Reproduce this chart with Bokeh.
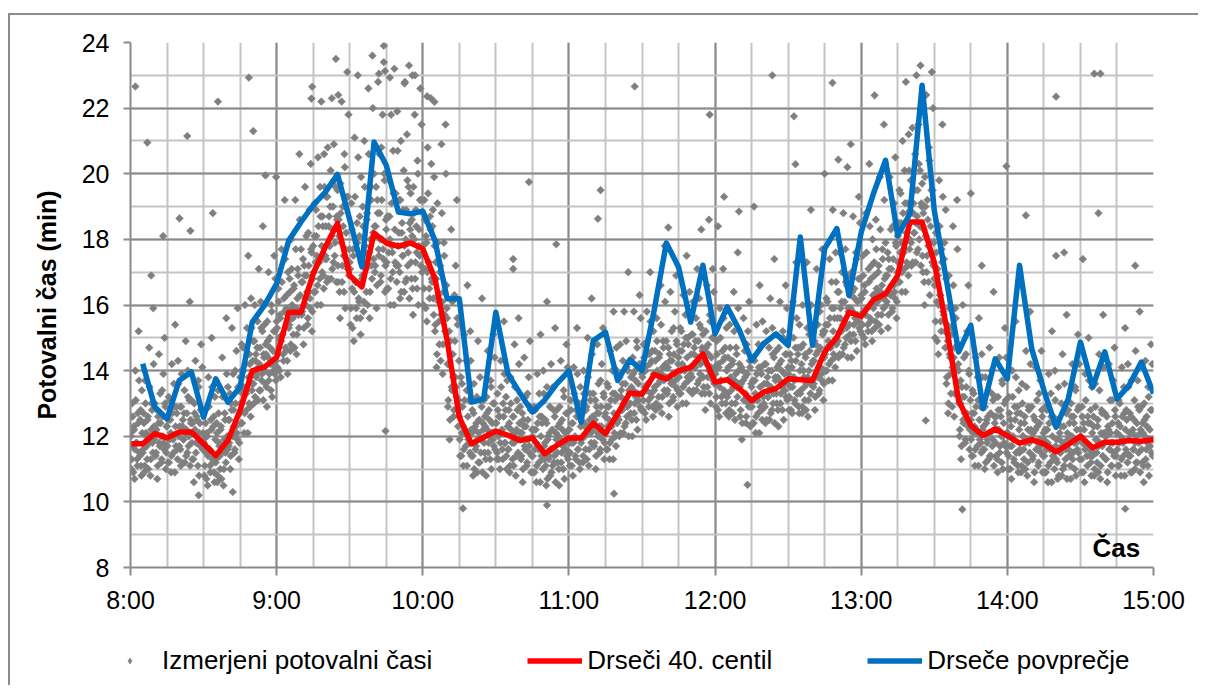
import numpy as np
from bokeh.plotting import figure
from bokeh.models import Range1d, FixedTicker, Legend, LegendItem, Label, ColumnDataSource, Div
from bokeh.embed import file_html
from bokeh.resources import INLINE

# ---------------- data ----------------
HOUR_TICKS = [0, 60, 120, 180, 240, 300, 360, 420]          # minutes after 8:00
HOUR_LABELS = ["8:00", "9:00", "10:00", "11:00", "12:00", "13:00", "14:00", "15:00"]
STEP = 5  # minutes between smoothed values

# moving 40th percentile, 8:00 .. 15:00 every 5 min
red = [11.77, 11.77, 12.08, 11.95, 12.13, 12.13, 11.77, 11.41, 11.87, 12.79,
       14.00, 14.11, 14.41, 15.78, 15.78, 16.95, 17.77, 18.49, 16.90, 16.55,
       18.19, 17.89, 17.79, 17.89, 17.71, 16.80, 14.92, 12.58, 11.77, 11.97,
       12.16, 12.03, 11.87, 11.95, 11.47, 11.72, 11.95, 11.95, 12.40, 12.08,
       12.69, 13.32, 13.28, 13.88, 13.75, 14.00, 14.10, 14.51, 13.65, 13.72,
       13.45, 13.09, 13.35, 13.45, 13.75, 13.72, 13.70, 14.57, 15.02, 15.78,
       15.65, 16.16, 16.34, 16.90, 18.53, 18.53, 17.30, 15.33, 13.09, 12.33,
       12.02, 12.22, 12.02, 11.79, 11.90, 11.77, 11.52, 11.75, 12.00, 11.65,
       11.82, 11.82, 11.87, 11.85, 11.90]

# moving average, 8:05 .. 15:00 every 5 min
blue = [14.21, 12.89, 12.53, 13.70, 13.96, 12.58, 13.75, 13.04, 13.50, 15.48,
        15.99, 16.65, 17.97, 18.53, 19.04, 19.44, 19.98, 18.60, 17.16, 20.97,
        20.26, 18.83, 18.78, 18.86, 17.97, 16.19, 16.19, 13.04, 13.14, 15.78,
        13.90, 13.30, 12.74, 13.10, 13.60, 13.99, 12.43, 14.92, 15.17, 13.70,
        14.33, 14.00, 15.84, 17.89, 17.16, 15.48, 17.21, 15.12, 15.94, 15.23,
        14.31, 14.82, 15.12, 14.77, 18.07, 14.77, 17.72, 18.33, 16.29, 18.22,
        19.39, 20.41, 18.12, 18.78, 22.70, 18.88, 16.75, 14.57, 15.38, 12.84,
        14.36, 13.75, 17.21, 14.67, 13.40, 12.28, 13.14, 14.87, 13.50, 14.57,
        13.14, 13.55, 14.26, 13.30]

# measured travel times: one row per 5-minute block, samples every 20 s
band = [
    "12.1 11.0 13.0 11.7 12.3 10.7 14.0 11.8 11.3 12.7 15.2 11.5 12.5 11.1 13.4",
    "11.5 12.7 10.9 13.7 12.1 11.7 12.5 11.0 14.7 12.0 11.3 13.0 11.8 15.9 12.3",
    "13.0 11.4 12.2 10.7 12.6 14.5 11.7 12.4 11.2 13.4 12.0 11.8 15.0 12.9 11.5",
    "12.3 11.2 13.2 11.9 12.5 10.9 14.2 12.0 11.5 12.9 15.4 11.7 12.7 11.3 13.6",
    "11.7 12.9 11.1 13.9 12.3 11.9 12.7 11.2 14.9 12.2 11.5 13.2 12.0 16.1 12.5",
    "13.1 11.3 12.1 10.6 12.7 14.3 11.8 12.5 11.1 13.5 12.1 11.7 14.8 12.8 11.6",
    "11.9 10.8 12.8 11.5 12.1 10.5 13.8 11.6 11.1 12.5 15.0 11.3 12.3 10.9 13.2",
    "11.2 12.4 10.6 13.4 11.8 11.4 12.2 10.7 14.4 11.7 11.0 12.7 11.5 15.6 12.0",
    "13.5 11.7 12.5 11.0 13.0 15.3 12.0 12.8 11.5 14.0 12.3 12.1 15.9 13.4 11.8",
    "13.8 12.4 14.8 13.3 14.0 12.1 16.0 13.4 12.8 14.5 17.5 13.0 14.2 12.6 15.3",
    "13.6 14.9 13.0 16.0 14.3 13.8 14.7 13.1 17.1 14.2 13.4 15.3 13.9 18.4 14.5",
    "15.4 13.6 14.5 12.9 14.9 17.0 13.9 14.7 13.4 15.8 14.2 14.0 17.5 15.2 13.7",
    "15.5 14.1 16.5 15.0 15.7 13.8 17.7 15.1 14.5 16.2 19.2 14.7 15.9 14.3 17.0",
    "15.3 16.8 14.6 18.0 16.0 15.6 16.5 14.7 19.2 15.9 15.1 17.1 15.7 20.6 16.3",
    "17.7 15.7 16.7 14.8 17.2 19.6 16.0 16.9 15.4 18.2 16.4 16.2 20.3 17.6 15.8",
    "17.8 16.4 19.1 17.3 18.1 16.0 20.5 17.4 16.8 18.7 22.2 17.0 18.4 16.5 19.6",
    "17.5 19.3 16.7 20.8 18.4 17.8 19.0 16.8 22.3 18.3 17.3 19.8 17.9 23.5 18.7",
    "19.5 16.7 18.1 15.6 18.8 22.2 17.2 18.4 16.4 20.2 17.7 17.4 23.1 19.3 16.9",
    "17.3 15.4 19.1 16.5 17.7 14.9 21.1 16.7 15.9 18.5 23.0 16.2 18.1 15.6 19.9",
    "16.8 19.0 15.8 21.0 17.8 17.1 18.6 16.0 22.6 17.6 16.4 19.6 17.2 23.6 18.2",
    "20.0 17.0 18.4 15.9 19.2 22.8 17.5 18.8 16.7 20.8 18.0 17.7 23.4 19.8 17.2",
    "18.3 16.5 20.0 17.6 18.7 16.0 21.8 17.8 17.0 19.4 23.2 17.3 19.1 16.7 20.7",
    "17.2 19.2 16.2 21.0 18.2 17.5 18.9 16.4 22.8 18.0 16.8 19.8 17.6 23.3 18.5",
    "19.4 16.8 18.1 15.7 18.8 21.8 17.3 18.4 16.5 20.0 17.8 17.5 22.6 19.2 17.0",
    "17.8 16.0 19.2 17.1 18.1 15.5 20.8 17.3 16.5 18.7 22.3 16.8 18.4 16.2 19.9",
    "15.2 17.3 14.1 19.1 16.3 15.5 17.0 14.3 20.9 16.1 14.8 17.9 15.7 21.5 16.6",
    "15.6 12.9 14.2 11.9 14.9 18.3 13.4 14.5 12.6 16.3 13.8 13.5 19.2 15.4 13.1",
    "12.6 11.4 13.8 12.1 12.9 11.1 15.1 12.2 11.7 13.4 16.6 11.9 13.1 11.5 14.3",
    "11.4 12.8 10.8 13.6 12.2 11.6 12.4 10.9 14.9 12.1 11.2 13.1 11.9 16.2 12.4",
    "13.1 11.5 12.3 10.8 12.7 14.6 11.8 12.5 11.3 13.5 12.1 11.9 15.1 13.0 11.6",
    "12.4 11.3 13.3 12.0 12.6 11.0 14.3 12.1 11.6 13.0 15.5 11.8 12.8 11.4 13.7",
    "11.6 12.8 10.9 13.8 12.2 11.8 12.6 11.1 14.8 12.1 11.4 13.1 11.9 15.6 12.4",
    "12.9 11.3 12.1 10.6 12.5 14.4 11.6 12.3 11.1 13.3 11.9 11.7 14.9 12.8 11.4",
    "12.0 10.9 12.9 11.6 12.2 10.6 13.9 11.7 11.2 12.6 15.1 11.4 12.4 11.0 13.3",
    "11.3 12.5 10.5 13.5 11.9 11.3 12.1 10.8 14.2 11.6 11.1 12.8 11.4 15.3 12.1",
    "12.8 11.2 12.0 10.5 12.4 14.3 11.5 12.2 11.0 13.2 11.8 11.6 14.8 12.7 11.3",
    "12.2 11.1 13.1 11.8 12.4 10.8 14.1 11.9 11.4 12.8 15.3 11.6 12.6 11.2 13.5",
    "11.8 13.0 11.2 14.0 12.4 12.0 12.8 11.3 15.0 12.3 11.6 13.3 12.1 16.2 12.6",
    "13.3 11.7 12.5 11.0 12.9 14.8 12.0 12.7 11.5 13.7 12.3 12.1 15.3 13.2 11.8",
    "12.7 11.6 13.6 12.3 12.9 11.3 14.6 12.4 11.9 13.3 15.8 12.1 13.1 11.7 14.0",
    "12.6 13.8 12.0 14.8 13.2 12.8 13.6 12.1 15.8 13.1 12.4 14.1 12.9 17.0 13.4",
    "14.3 12.7 13.5 12.0 13.9 15.8 13.0 13.7 12.5 14.7 13.3 13.1 16.3 14.2 12.8",
    "13.9 12.8 14.8 13.5 14.1 12.5 15.8 13.6 13.1 14.5 17.0 13.3 14.3 12.9 15.2",
    "13.4 14.6 12.8 15.6 14.0 13.6 14.4 12.9 16.6 13.9 13.2 14.9 13.7 17.8 14.2",
    "14.9 13.3 14.1 12.6 14.5 16.4 13.6 14.3 13.1 15.3 13.9 13.7 16.9 14.8 13.4",
    "14.4 13.3 15.3 14.0 14.6 13.0 16.3 14.1 13.6 15.0 17.5 13.8 14.8 13.4 15.7",
    "13.9 15.1 13.3 16.1 14.5 14.1 14.9 13.4 17.1 14.4 13.7 15.4 14.2 18.3 14.7",
    "15.1 13.5 14.3 12.8 14.7 16.6 13.8 14.5 13.3 15.5 14.1 13.9 17.1 15.0 13.6",
    "14.0 12.9 14.9 13.6 14.2 12.6 15.9 13.7 13.2 14.6 17.1 13.4 14.4 13.0 15.3",
    "13.2 14.4 12.6 15.4 13.8 13.4 14.2 12.7 16.4 13.7 13.0 14.7 13.5 17.6 14.0",
    "14.2 12.6 13.6 11.9 14.0 15.6 13.1 13.8 12.4 14.8 13.2 13.0 16.1 14.1 12.9",
    "13.5 12.4 14.4 13.1 13.7 12.1 15.4 13.2 12.7 14.1 16.6 12.9 13.9 12.5 14.8",
    "13.0 14.2 12.4 15.2 13.6 13.2 14.0 12.5 16.2 13.5 12.8 14.5 13.3 17.4 13.8",
    "14.6 13.0 13.8 12.3 14.2 16.1 13.3 14.0 12.8 15.0 13.6 13.4 16.6 14.5 13.1",
    "14.1 12.8 15.0 13.5 14.3 12.7 16.1 13.8 13.1 14.7 17.3 13.3 14.5 12.9 15.4",
    "13.3 14.7 12.7 16.0 14.0 13.5 14.5 12.8 17.3 13.8 13.1 15.1 13.6 18.9 14.2",
    "15.3 13.5 14.3 12.8 14.8 17.1 13.8 14.6 13.3 15.8 14.1 13.9 17.7 15.2 13.6",
    "15.2 14.0 16.2 14.7 15.4 13.7 17.4 14.8 14.3 15.9 18.9 14.5 15.6 14.1 16.7",
    "15.0 16.4 14.4 17.6 15.6 15.2 16.1 14.5 18.8 15.5 14.8 16.7 15.3 20.2 15.9",
    "16.9 15.1 15.9 14.4 16.4 18.7 15.4 16.2 14.9 17.4 15.7 15.5 19.3 16.8 15.2",
    "16.3 15.1 17.5 15.8 16.6 14.8 18.8 15.9 15.4 17.1 20.3 15.6 16.8 15.2 18.0",
    "15.9 17.3 15.3 18.6 16.5 16.1 17.0 15.4 19.9 16.4 15.7 17.7 16.2 21.5 16.8",
    "17.9 16.0 16.9 15.3 17.4 19.9 16.3 17.1 15.8 18.4 16.6 16.4 20.5 17.8 16.1",
    "18.1 16.7 19.5 17.6 18.5 16.4 21.0 17.7 17.1 19.1 22.8 17.3 18.8 16.9 20.1",
    "18.0 19.8 17.2 21.4 18.8 18.2 19.5 17.3 23.0 18.7 17.7 20.3 18.4 23.3 19.1",
    "19.7 17.0 18.3 16.0 19.0 22.4 17.5 18.6 16.7 20.4 17.9 17.6 23.1 19.5 17.2",
    "16.8 15.0 18.2 16.1 17.1 14.5 19.8 16.3 15.5 17.7 21.5 15.8 17.4 15.2 18.9",
    "13.6 15.4 12.7 16.9 14.5 13.9 15.1 12.9 18.4 14.4 13.3 15.9 14.1 19.2 14.8",
    "14.0 12.0 13.0 11.3 13.5 16.0 12.4 13.2 11.8 14.5 12.7 12.5 16.6 13.9 12.2",
    "12.5 11.4 13.4 12.1 12.7 11.1 14.4 12.2 11.7 13.1 15.6 11.9 12.9 11.5 13.8",
    "11.6 13.0 11.0 13.8 12.4 11.8 12.6 11.3 14.7 12.1 11.4 13.3 11.9 16.4 12.6",
    "13.2 11.4 12.2 10.9 12.8 14.4 11.7 12.6 11.2 13.6 12.0 11.8 15.3 13.1 11.5",
    "12.1 11.0 13.2 11.7 12.5 10.7 14.0 12.0 11.3 12.9 15.5 11.5 12.7 11.1 13.4",
    "11.5 12.7 10.9 13.6 12.0 11.6 12.4 11.0 14.6 11.9 11.2 12.9 11.8 15.8 12.2",
    "12.9 11.3 12.1 10.6 12.5 14.1 11.6 12.3 11.1 13.3 11.9 11.7 14.6 12.6 11.4",
    "11.9 10.9 12.9 11.6 12.2 10.6 13.9 11.7 11.2 12.6 15.2 11.4 12.4 11.0 13.1",
    "11.3 12.5 10.7 13.5 11.9 11.5 12.3 10.8 14.5 11.8 11.1 12.8 11.6 15.7 12.1",
    "12.8 11.4 12.0 10.7 12.6 14.2 11.5 12.4 11.0 13.4 11.8 11.6 15.1 12.9 11.3",
    "12.2 10.9 12.9 11.8 12.4 10.6 13.9 11.7 11.4 12.6 15.0 11.6 12.4 11.2 13.5",
    "11.4 12.6 10.8 13.6 11.9 11.5 12.3 10.9 14.5 11.8 11.1 12.8 11.7 15.7 12.1",
    "12.7 11.3 12.0 10.6 12.3 14.2 11.6 12.1 11.1 13.1 11.8 11.5 14.7 12.6 11.4",
    "12.1 11.1 13.1 11.8 12.3 10.8 14.1 11.9 11.4 12.7 15.3 11.6 12.5 11.2 13.5",
    "11.4 12.7 10.9 13.7 12.1 11.6 12.5 11.0 14.6 12.0 11.2 12.9 11.8 15.8 12.2",
    "12.9 11.2 12.1 10.6 12.5 14.3 11.6 12.3 11.1 13.2 11.9 11.7 14.8 12.8 11.4",
]

# second sweep of measurements (10 s later in each 20 s slot), same 5-minute blocks
band2 = [
    "12.0 11.3 12.6 10.9 12.2 11.6 13.1 11.8 11.1 12.4 13.7 11.4 12.8 10.8 12.1",
    "11.6 12.4 11.1 13.0 12.0 11.3 12.6 11.8 13.5 10.8 12.2 12.8 11.5 14.2 11.9",
    "12.2 11.5 12.8 11.1 12.4 11.8 13.3 12.0 11.3 12.6 13.9 11.6 13.0 11.0 12.3",
    "11.7 12.5 11.2 13.1 12.1 11.4 12.7 11.9 13.6 10.9 12.3 12.9 11.6 14.3 12.0",
    "12.3 11.6 12.9 11.2 12.5 11.9 13.4 12.1 11.4 12.7 14.0 11.7 13.1 11.1 12.4",
    "11.8 12.4 11.3 13.0 12.2 11.5 12.6 11.8 13.7 10.8 12.4 12.8 11.7 14.1 12.1",
    "11.8 11.1 12.4 10.7 12.0 11.4 12.9 11.6 10.9 12.2 13.5 11.2 12.6 10.6 11.9",
    "11.3 12.1 10.8 12.7 11.7 11.0 12.3 11.5 13.2 10.5 11.9 12.5 11.2 13.9 11.6",
    "12.5 11.8 13.3 11.4 12.8 12.1 13.9 12.3 11.6 13.0 14.6 11.9 13.5 11.3 12.7",
    "13.0 14.0 12.4 14.7 13.5 12.7 14.2 13.3 15.3 12.1 13.8 14.5 12.9 16.2 13.4",
    "14.3 13.6 14.9 13.2 14.5 13.9 15.5 14.1 13.4 14.7 16.1 13.7 15.2 13.1 14.4",
    "14.0 14.8 13.5 15.5 14.4 13.7 15.0 14.2 16.0 13.2 14.6 15.2 13.9 16.8 14.3",
    "15.3 14.5 16.1 14.0 15.6 14.9 16.7 15.1 14.3 15.8 17.4 14.6 16.3 13.9 15.5",
    "15.4 16.4 14.8 17.1 15.9 15.1 16.6 15.7 17.7 14.5 16.2 16.9 15.3 18.6 15.8",
    "16.7 15.8 17.4 15.3 16.9 16.2 18.1 16.4 15.6 17.2 18.9 15.9 17.7 15.2 16.8",
    "17.0 18.1 16.4 18.9 17.5 16.6 18.4 17.3 19.6 16.0 17.8 18.7 16.9 20.6 17.4",
    "18.4 17.4 19.3 16.8 18.7 17.8 20.1 18.1 17.1 19.0 20.9 17.5 19.6 16.7 18.6",
    "17.2 18.6 16.4 19.7 17.9 16.7 19.0 17.5 20.6 15.9 18.2 19.3 17.1 21.8 17.7",
    "17.1 15.9 18.3 15.3 17.5 16.4 19.3 16.7 15.6 17.9 20.5 16.1 18.7 15.1 17.3",
    "16.9 18.4 16.1 19.6 17.6 16.4 18.8 17.2 20.6 15.6 18.0 19.2 16.8 22.0 17.4",
    "18.4 17.2 19.6 16.6 18.8 17.7 20.6 18.0 16.9 19.2 21.8 17.4 20.0 16.4 18.6",
    "17.3 18.7 16.5 19.8 18.0 16.8 19.1 17.6 20.7 16.0 18.3 19.4 17.2 21.9 17.8",
    "18.2 17.0 19.2 16.4 18.5 17.5 20.1 17.8 16.7 18.9 21.2 17.2 19.6 16.2 18.3",
    "17.3 18.6 16.5 19.6 18.0 16.8 18.9 17.6 20.4 16.0 18.3 19.2 17.2 21.5 17.8",
    "17.6 16.5 18.6 15.9 17.9 17.0 19.4 17.3 16.2 18.3 20.3 16.7 18.9 15.7 17.8",
    "15.4 16.8 14.5 17.9 16.1 14.8 17.2 15.7 18.8 13.9 16.4 17.5 15.2 20.0 15.9",
    "14.2 13.1 15.2 12.5 14.5 13.5 16.1 13.8 12.8 14.9 17.2 13.2 15.6 12.3 14.3",
    "11.9 12.9 11.4 13.6 12.3 11.6 13.1 12.1 14.3 11.1 12.6 13.4 11.8 15.2 12.2",
    "12.1 11.4 12.7 11.0 12.3 11.7 13.2 11.9 11.2 12.5 13.8 11.5 12.9 10.9 12.2",
    "11.8 12.6 11.3 13.2 12.2 11.5 12.8 12.0 13.7 11.0 12.4 13.0 11.7 14.4 12.1",
    "12.4 11.5 12.8 11.3 12.6 11.8 13.5 12.2 11.3 12.6 13.9 11.8 13.2 11.0 12.3",
    "11.6 12.4 11.1 13.0 12.0 11.3 12.6 11.8 13.5 10.8 12.2 12.8 11.5 14.2 11.9",
    "12.1 11.4 12.7 11.0 12.3 11.7 13.2 11.9 11.2 12.5 13.8 11.5 12.9 10.9 12.2",
    "11.4 12.2 10.9 12.8 11.8 11.1 12.4 11.6 13.3 10.6 12.0 12.6 11.3 14.0 11.7",
    "11.8 11.1 12.4 10.7 12.0 11.4 12.9 11.6 10.9 12.2 13.5 11.2 12.6 10.6 11.9",
    "11.5 12.3 11.0 12.9 11.9 11.2 12.5 11.7 13.4 10.7 12.1 12.7 11.4 14.1 11.8",
    "12.2 11.5 12.8 11.1 12.4 11.8 13.3 12.0 11.3 12.6 13.9 11.6 13.0 11.0 12.3",
    "11.9 12.7 11.4 13.3 12.3 11.6 12.9 12.1 13.8 11.1 12.5 13.1 11.8 14.5 12.2",
    "12.5 11.8 13.1 11.4 12.7 12.1 13.6 12.3 11.6 12.9 14.2 11.9 13.3 11.3 12.6",
    "12.1 12.9 11.6 13.5 12.5 11.8 13.1 12.3 14.0 11.3 12.7 13.3 12.0 14.7 12.4",
    "13.2 12.5 13.8 12.1 13.4 12.8 14.3 13.0 12.3 13.6 14.9 12.6 14.0 12.0 13.3",
    "13.0 13.8 12.5 14.4 13.4 12.7 14.0 13.2 14.9 12.2 13.6 14.2 12.9 15.6 13.3",
    "13.8 13.1 14.4 12.7 14.0 13.4 14.9 13.6 12.9 14.2 15.5 13.2 14.6 12.6 13.9",
    "13.5 14.3 13.0 14.9 13.9 13.2 14.5 13.7 15.4 12.7 14.1 14.7 13.4 16.1 13.8",
    "14.1 13.4 14.7 13.0 14.3 13.7 15.2 13.9 13.2 14.5 15.8 13.5 14.9 12.9 14.2",
    "13.8 14.6 13.3 15.2 14.2 13.5 14.8 14.0 15.7 13.0 14.4 15.0 13.7 16.4 14.1",
    "14.5 13.8 15.1 13.4 14.7 14.1 15.6 14.3 13.6 14.9 16.2 13.9 15.3 13.3 14.6",
    "13.8 14.6 13.3 15.2 14.2 13.5 14.8 14.0 15.7 13.0 14.4 15.0 13.7 16.4 14.1",
    "13.9 13.2 14.5 12.8 14.1 13.5 15.0 13.7 13.0 14.3 15.6 13.3 14.7 12.7 14.0",
    "13.3 14.1 12.8 14.7 13.7 13.0 14.3 13.5 15.2 12.5 13.9 14.5 13.2 15.9 13.6",
    "13.5 12.8 14.1 12.4 13.7 13.1 14.6 13.3 12.6 13.9 15.2 12.9 14.3 12.3 13.6",
    "12.9 13.7 12.4 14.3 13.3 12.6 13.9 13.1 14.8 12.1 13.5 14.1 12.8 15.5 13.2",
    "13.6 12.9 14.2 12.5 13.8 13.2 14.7 13.4 12.7 14.0 15.3 13.0 14.4 12.4 13.7",
    "13.3 14.1 12.8 14.7 13.7 13.0 14.3 13.5 15.2 12.5 13.9 14.5 13.2 15.9 13.6",
    "13.9 13.2 14.5 12.8 14.1 13.5 15.0 13.7 13.0 14.3 15.6 13.3 14.7 12.7 14.0",
    "13.4 14.2 12.9 14.8 13.8 13.1 14.4 13.6 15.3 12.6 14.0 14.6 13.3 16.0 13.7",
    "14.3 13.6 14.9 13.2 14.5 13.9 15.4 14.1 13.4 14.7 16.0 13.7 15.1 13.1 14.4",
    "14.5 15.4 14.0 16.1 14.9 14.2 15.6 14.7 16.7 13.7 15.2 15.9 14.4 17.6 14.8",
    "15.6 14.9 16.4 14.5 15.9 15.2 17.0 15.4 14.7 16.1 17.7 15.0 16.6 14.4 15.8",
    "15.4 16.3 14.9 17.0 15.8 15.1 16.5 15.6 17.6 14.6 16.1 16.8 15.3 18.5 15.7",
    "16.2 15.4 16.9 15.0 16.4 15.7 17.6 15.9 15.2 16.7 18.4 15.5 17.2 14.9 16.3",
    "16.0 16.9 15.5 17.7 16.4 15.7 17.2 16.2 18.3 15.2 16.6 17.4 15.9 19.2 16.3",
    "16.9 16.1 17.6 15.7 17.1 16.4 18.3 16.6 15.9 17.4 19.1 16.2 17.9 15.6 17.0",
    "17.3 18.5 16.7 19.4 17.9 17.0 18.8 17.6 20.1 16.4 18.2 19.1 17.2 21.2 17.7",
    "18.8 17.9 19.8 17.3 19.1 18.2 20.6 18.5 17.6 19.5 21.5 18.0 20.1 17.2 19.0",
    "17.5 18.8 16.7 19.9 18.1 17.0 19.2 17.8 20.8 16.3 18.4 19.5 17.3 22.0 17.9",
    "16.6 15.5 17.6 14.9 16.9 16.0 18.4 16.3 15.2 17.3 19.3 15.7 17.9 14.7 16.8",
    "13.8 14.9 13.0 15.9 14.4 13.3 15.3 14.1 16.6 12.6 14.7 15.6 13.6 17.7 14.2",
    "13.0 12.2 13.7 11.7 13.2 12.5 14.4 12.7 11.9 13.5 15.2 12.3 14.0 11.6 13.1",
    "11.9 12.7 11.4 13.3 12.3 11.6 12.9 12.1 13.8 11.1 12.5 13.1 11.8 14.5 12.2",
    "12.3 11.6 12.9 11.2 12.5 11.9 13.4 12.1 11.4 12.7 14.0 11.7 13.1 11.1 12.4",
    "11.8 12.6 11.3 13.2 12.2 11.5 12.8 12.0 13.7 11.0 12.4 13.0 11.7 14.4 12.1",
    "12.1 11.4 12.7 11.0 12.3 11.7 13.2 11.9 11.2 12.5 13.8 11.5 12.9 10.9 12.2",
    "11.6 12.4 11.1 13.0 12.0 11.3 12.6 11.8 13.5 10.8 12.2 12.8 11.5 14.2 11.9",
    "12.1 11.4 12.6 10.9 12.2 11.6 13.1 11.8 11.2 12.4 13.7 11.5 12.8 10.9 12.1",
    "11.4 12.2 10.9 12.8 11.8 11.1 12.4 11.6 13.3 10.6 12.0 12.6 11.3 14.0 11.7",
    "11.9 11.2 12.5 10.8 12.1 11.5 13.0 11.7 11.0 12.3 13.6 11.3 12.7 10.7 11.9",
    "11.6 12.4 11.1 13.0 12.0 11.3 12.6 11.8 13.5 10.8 12.2 12.8 11.5 14.2 11.9",
    "12.0 11.3 12.6 10.9 12.2 11.6 13.1 11.8 11.1 12.4 13.7 11.4 12.8 10.8 12.1",
    "11.5 12.3 11.0 12.9 11.9 11.2 12.5 11.7 13.4 10.7 12.1 12.7 11.4 14.1 11.8",
    "12.0 11.3 12.6 10.9 12.2 11.6 13.1 11.8 11.1 12.4 13.7 11.4 12.8 10.8 12.1",
    "11.6 12.4 11.1 13.0 12.0 11.3 12.6 11.8 13.5 10.8 12.2 12.8 11.5 14.2 11.9",
    "12.1 11.4 12.6 10.9 12.2 11.6 13.1 11.8 11.2 12.4 13.7 11.5 12.8 10.9 12.1",
    "11.6 12.4 11.1 13.0 12.0 11.3 12.6 11.8 13.5 10.8 12.2 12.8 11.5 14.2 11.9",
]

outlier_t = [2, 6.9, 23.3, 35.9, 48.6, 50.4, 55.4, 59.8, 20.1, 24.6, 33.8, 13.4,
             104, 102, 104.5, 116.8, 74.6, 85.3, 74.3, 106.5, 112.5, 115.7, 121.8,
             124.8, 163.6, 157.1, 157.1, 104.7, 193, 191.9, 174.8, 243.7, 249.8,
             237.5, 241.2, 220.8, 171, 171, 198.5, 263.5, 288.2, 305.5, 272.4,
             295.7, 290.6, 273, 285, 256, 253.3, 326.5, 359.6, 345, 367.6, 397.4,
             349.5, 383.3, 380, 391, 412.5, 341.5, 408.4, 395.7, 398.2, 380, 207,
             237.8, 136.5, 28, 42, 8.5]
outlier_v = [22.66, 20.95, 21.15, 22.2, 22.93, 21.3, 19.95, 19.9, 18.64, 18.26, 18.8, 18.1,
             23.9, 23.05, 23.13, 23.0, 22.65, 22.4, 22.29, 22.93, 22.75, 23.0, 22.36,
             22.19, 19.75, 17.4, 17.1, 12.16, 19.5, 18.63, 17.85, 19.3, 18.85,
             18.6, 18.4, 18.36, 16.1, 9.9, 10.25, 23.0, 22.77, 22.39, 21.75,
             20.9, 20.43, 20.29, 20.0, 19.0, 10.52, 12.48, 20.23, 19.4, 18.73, 18.8,
             17.2, 17.6, 17.5, 17.4, 17.2, 9.77, 9.79, 23.05, 23.05, 22.35, 22.66,
             21.8, 9.8, 10.2, 10.3, 16.9]

# ---------------- build columns ----------------
pts_t, pts_v = [], []
for shift, rows in ((0.0, band), (0.5, band2)):
    for k, row in enumerate(rows):
        vals = [float(s) for s in row.split()]
        n = len(vals)
        for j, v in enumerate(vals):
            pts_t.append(k * STEP + (j + shift) * STEP / n)
            pts_v.append(v)
pts_t += outlier_t
pts_v += outlier_v
scatter_src = ColumnDataSource(dict(t=pts_t, v=pts_v))

red_t = [i * STEP for i in range(len(red))]
blue_t = [(i + 1) * STEP for i in range(len(blue))]

FONT = "Liberation Sans"
GRID_DARK = "#8a8a8a"
GRID_LIGHT = "#c4c4c4"
FRAME_GRAY = "#8c8c8c"
PT_COLOR = "#7f7f7f"
RED = "#ff0000"
BLUE = "#0070c0"

# ---------------- top edge of the chart area's border ----------------
top_edge = Div(text="", width=1190, height=15, margin=(0, 0, 0, 8),
               styles={"background": f"linear-gradient(to bottom, white 13px, {FRAME_GRAY} 13px)"})

# ---------------- main chart ----------------
p = figure(width=1188, height=620, output_backend="svg", toolbar_location=None,
           x_range=Range1d(0, 420), y_range=Range1d(8, 24),
           min_border_left=120, min_border_right=45, min_border_top=27, min_border_bottom=68)
p.margin = (0, 0, 0, 10)
p.styles = {"box-shadow": f"-2px 0 0 0 {FRAME_GRAY}"}
p.outline_line_color = None
p.background_fill_color = "white"
p.border_fill_color = "white"

# ticks / grid
p.xaxis.ticker = FixedTicker(ticks=HOUR_TICKS, minor_ticks=list(range(0, 421, 15)))
p.yaxis.ticker = FixedTicker(ticks=list(range(8, 25, 2)), minor_ticks=list(range(8, 25, 1)))
p.xaxis.major_label_overrides = {t: l for t, l in zip(HOUR_TICKS, HOUR_LABELS)}
for g in (p.xgrid, p.ygrid):
    g.grid_line_color = GRID_DARK
    g.grid_line_width = 2
    g.minor_grid_line_color = GRID_LIGHT
    g.minor_grid_line_width = 2

for ax in (p.xaxis, p.yaxis):
    ax.axis_line_color = GRID_DARK
    ax.axis_line_width = 2
    ax.major_tick_line_color = GRID_DARK
    ax.major_tick_line_width = 2
    ax.minor_tick_line_color = None
    ax.major_tick_in = 0
    ax.major_label_text_font = FONT
    ax.major_label_text_font_size = "25px"
    ax.major_label_text_color = "black"
p.xaxis.major_tick_out = 8
p.xaxis.major_label_standoff = 10
p.yaxis.major_tick_out = 7
p.yaxis.major_label_standoff = 14
p.yaxis.axis_label = "Potovalni čas (min)"
p.yaxis.axis_label_text_font = FONT
p.yaxis.axis_label_text_font_style = "bold"
p.yaxis.axis_label_text_font_size = "25px"
p.yaxis.axis_label_text_color = "black"
p.yaxis.axis_label_standoff = 18

# data
p.scatter("t", "v", source=scatter_src, marker="square", angle=np.pi / 4, size=5.4,
          fill_color=PT_COLOR, line_color=PT_COLOR, line_width=0.6)
p.line(red_t, red, line_color=RED, line_width=5.5, line_join="round")
p.line(blue_t, blue, line_color=BLUE, line_width=5.5, line_join="round")

p.add_layout(Label(x=414.5, y=8.58, text="Čas", text_align="right", text_baseline="middle",
                   text_font=FONT, text_font_style="bold", text_font_size="26px",
                   text_color="black"))

# ---------------- legend strip (separate root, not frame-aligned) ----------------
lg = figure(width=1188, height=50, output_backend="svg", toolbar_location=None,
            x_range=Range1d(0, 1), y_range=Range1d(0, 1),
            x_axis_location=None, y_axis_location=None, min_border=0)
lg.margin = (0, 0, 0, 10)
lg.styles = {"box-shadow": f"-2px 0 0 0 {FRAME_GRAY}"}
lg.outline_line_color = None
lg.xgrid.visible = False
lg.ygrid.visible = False
lg.background_fill_color = "white"
lg.border_fill_color = "white"
# legend-only glyph carriers, placed outside the visible range
s_key = lg.scatter([-5], [-5], marker="diamond", size=6,
                   fill_color=PT_COLOR, line_color=PT_COLOR, line_width=0.6)
r_key = lg.line([-5, -4], [-5, -5], line_color=RED, line_width=5.5)
b_key = lg.line([-5, -4], [-5, -5], line_color=BLUE, line_width=5.5)
legend = Legend(items=[LegendItem(label="Izmerjeni potovalni časi", renderers=[s_key]),
                       LegendItem(label="Drseči 40. centil", renderers=[r_key]),
                       LegendItem(label="Drseče povprečje", renderers=[b_key])],
                orientation="horizontal", location=(92, 9), spacing=95,
                glyph_width=55, glyph_height=15, label_height=28, label_standoff=5,
                label_text_font=FONT, label_text_font_size="26px", label_text_color="black",
                border_line_color=None, background_fill_alpha=0, padding=0, margin=0)
lg.add_layout(legend, "center")

open("out.html", "w").write(file_html([top_edge, p, lg], INLINE))
